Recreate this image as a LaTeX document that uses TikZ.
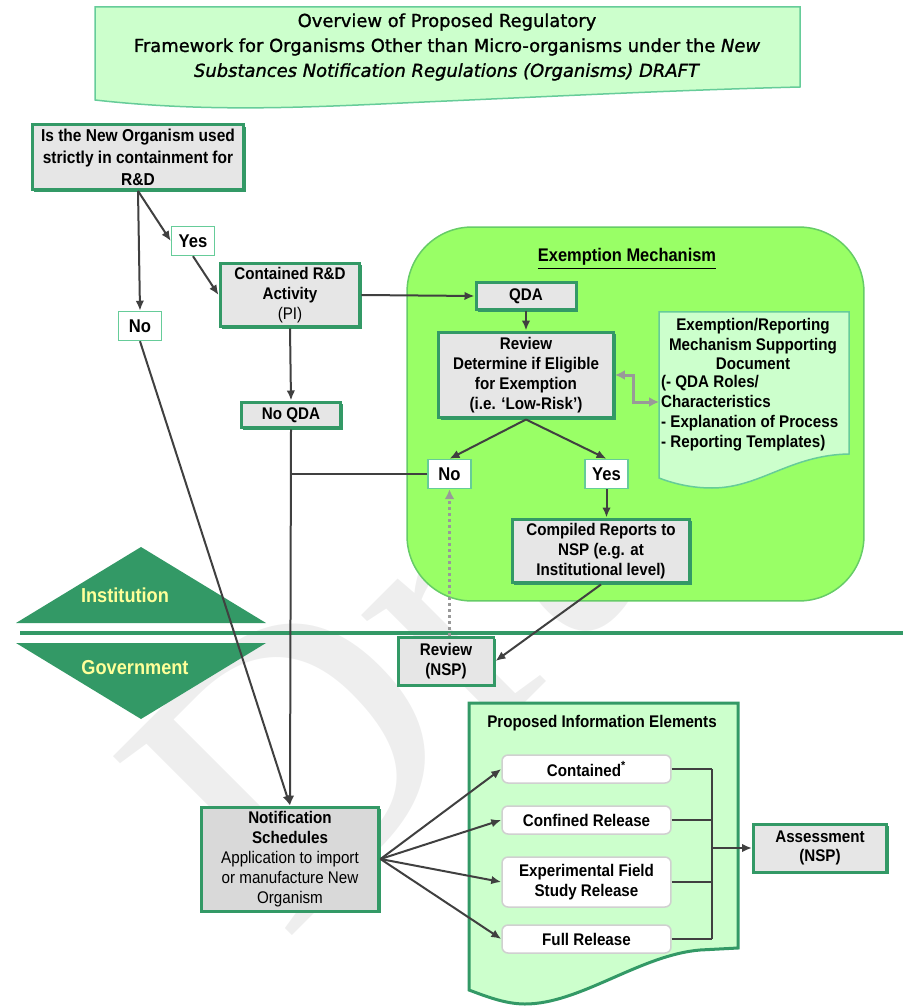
\documentclass[tikz,border=0pt]{standalone}
\usepackage{fontspec}
\setmainfont{Liberation Sans}[FakeStretch=0.9]
\newfontfamily\titlefont{DejaVu Sans}[FakeBold=1.2]
\newfontfamily\markfont{Liberation Serif}
\usetikzlibrary{arrows.meta,shadows}

\definecolor{boxgreen}{HTML}{339966}
\definecolor{edgegreen}{HTML}{66CC99}
\definecolor{exemptedge}{HTML}{66CC66}
\definecolor{palegreen}{HTML}{CCFFCC}
\definecolor{brightgreen}{HTML}{99FF66}
\definecolor{boxgray}{HTML}{E6E6E6}
\definecolor{schedgray}{HTML}{D9D9D9}
\definecolor{itemgray}{HTML}{D0D0D0}
\definecolor{linegray}{HTML}{404040}
\definecolor{tipgray}{HTML}{999999}
\definecolor{labelyellow}{HTML}{FFFF99}
\definecolor{markgray}{HTML}{EEEEEE}

\begin{document}
\begin{tikzpicture}
[x=0.02cm, y=-0.02cm,
  boxdecorate/.style={shape=rectangle,draw=boxgreen,line width=0.06cm,fill=boxgray,
    align=center,inner sep=1pt,font=\fontsize{9.6}{11.3}\selectfont\bfseries,
    drop shadow={shadow xshift=0.045cm,shadow yshift=-0.045cm,fill=boxgreen,opacity=1}},%
  tagdecorate/.style={shape=rectangle,draw=edgegreen,line width=0.03cm,fill=white,
    minimum width=0.86cm,minimum height=0.58cm,inner sep=1pt,
    font=\fontsize{10.5}{12}\selectfont\bfseries},%
  itemdecorate/.style={shape=rectangle,rounded corners=0.12cm,draw=itemgray,line width=0.03cm,
    fill=white,align=center,minimum width=3.38cm,inner sep=1pt,
    font=\fontsize{9.6}{11.3}\selectfont\bfseries},%
  paperdecorate/.style={fill=palegreen,draw=edgegreen,line width=0.03cm},%
  textdecorate/.style={align=center,inner sep=1pt,font=\fontsize{9.6}{11.3}\selectfont\bfseries},%
  arrowdecorate/.style={-{Latex[length=0.2cm,width=0.17cm]},draw=linegray,line width=0.04cm},%
  linedecorate/.style={-,draw=linegray,line width=0.04cm},%
  graydecorate/.style={{Latex[length=0.2cm,width=0.2cm]}-{Latex[length=0.2cm,width=0.2cm]},
    draw=tipgray,line width=0.06cm},%
  dotdecorate/.style={-{Latex[length=0.2cm,width=0.2cm]},draw=tipgray,line width=0.06cm,
    dash pattern=on 0.06cm off 0.06cm}]
\useasboundingbox (0,0) rectangle (903,1006);
%% watermark
\node (draftmark) at (284,944) [anchor=base west,rotate=45,text=markgray,inner sep=0pt,
  font=\markfont\fontsize{220}{220}\selectfont] {Draft};
%% heading
\path[paperdecorate] (95,7) -- (800,7) -- (800,87) .. controls (680,90) and (560,96) .. (447,101)
  .. controls (330,106) and (220,114) .. (95,100) -- cycle;
\node (title) at (447,47) [align=center,font=\titlefont\fontsize{10.2}{14.2}\selectfont]
  {Overview of Proposed Regulatory\\Framework for Organisms Other than Micro-organisms under the \textit{New}\\
   \textit{Substances Notification Regulations (Organisms) DRAFT}};
%% institution and government
\path[fill=boxgreen] (16,623) -- (141,547) -- (266,623) -- cycle;
\path[fill=boxgreen] (16,643) -- (141,719) -- (266,643) -- cycle;
\draw[boxgreen,line width=0.08cm] (20,633) -- (903,633);
\node (institution) at (125,595) [text=labelyellow,font=\fontsize{11.5}{13}\selectfont\bfseries] {Institution};
\node (government) at (135,668) [text=labelyellow,font=\fontsize{11.5}{13}\selectfont\bfseries] {Government};
%% exemption mechanism
\node (exempt) at (635.5,414) [shape=rectangle,rounded corners=1.3cm,fill=brightgreen,draw=exemptedge,
  line width=0.03cm,minimum width=9.14cm,minimum height=7.48cm] {};
\node (exempttitle) at (627,259) [font=\fontsize{10.4}{12}\selectfont\bfseries] {\underline{Exemption Mechanism}};
\path[paperdecorate] (659,312) -- (849,312) -- (849,454) .. controls (790,455) and (760,488) .. (712,488)
  .. controls (690,488) and (672,483) .. (659,478) -- cycle;
\coordinate (supdoc) at (659,402);
\node (supdochead) at (753,344) [textdecorate] {Exemption/Reporting\\Mechanism Supporting\\Document};
\node (supdoclist) at (659,413) [textdecorate,anchor=west,align=left]
  {(- QDA Roles/\\Characteristics\\- Explanation of Process\\- Reporting Templates)};
%% nodes or boxes
\node (qbox) at (138,157) [boxdecorate,minimum width=4.24cm,minimum height=1.3cm,
  font=\fontsize{9.8}{12.5}\selectfont\bfseries] {Is the New Organism used\\strictly in containment for\\R\&D};
\node (yesA) at (193,241) [tagdecorate] {Yes};
\node (noA) at (140,326) [tagdecorate] {No};
\node (rnd) at (290,295) [boxdecorate,minimum width=2.8cm,minimum height=1.28cm]
  {Contained R\&D\\Activity\\{\mdseries (PI)}};
\node (noqda) at (291,415) [boxdecorate,minimum width=2.0cm,minimum height=0.52cm] {No QDA};
\node (qda) at (526,296) [boxdecorate,minimum width=2.0cm,minimum height=0.54cm] {QDA};
\node (review) at (526,375) [boxdecorate,minimum width=3.5cm,minimum height=1.72cm]
  {Review\\Determine if Eligible\\for Exemption\\(i.e. `Low-Risk')};
\node (noB) at (449.5,474) [tagdecorate] {No};
\node (yesB) at (606.5,474) [tagdecorate] {Yes};
\node (compiled) at (601,551) [boxdecorate,minimum width=3.56cm,minimum height=1.28cm]
  {Compiled Reports to\\NSP (e.g. at\\Institutional level)};
\node (nspreview) at (446,661) [boxdecorate,minimum width=1.92cm,minimum height=0.96cm] {Review\\(NSP)};
\node (notif) at (290,859) [boxdecorate,fill=schedgray,minimum width=3.56cm,minimum height=2.08cm]
  {Notification\\Schedules\\{\mdseries Application to import}\\{\mdseries or manufacture New}\\{\mdseries Organism}};
%% proposed information elements
\path[paperdecorate,draw=boxgreen,line width=0.06cm] (469,703) -- (738,703) -- (738,948) -- (700,950)
  .. controls (640,955) and (580,1004) .. (525,1004) .. controls (505,1004) and (485,996) .. (469,990) -- cycle;
\node (proposed) at (602,723) [textdecorate] {Proposed Information Elements};
\foreach \nodename/\y/\h/\txt in {contained/769/0.56/{Contained\textsuperscript{*}},
  confined/820/0.56/{Confined Release}, fieldstudy/882/1.0/{Experimental Field\\Study Release},
  fullrel/939/0.56/{Full Release}} {
  \node (\nodename) at (586.5,\y) [itemdecorate,minimum height=\h cm] {\txt};
}
\node (assess) at (820,848) [boxdecorate,minimum width=2.66cm,minimum height=0.96cm] {Assessment\\(NSP)};
%% edges or lines
\draw[arrowdecorate] (qbox.south) -- (noA.north);
\draw[arrowdecorate] (qbox.south) -- (yesA.west);
\draw[arrowdecorate] (yesA.south) -- (rnd.west);
\draw[arrowdecorate] (noA.south) -- (notif.north);
\draw[arrowdecorate] (rnd.south) -- (noqda.north);
\draw[arrowdecorate] (noqda.south) -- (notif.north);
\draw[arrowdecorate] (rnd.east) -- (qda.west);
\draw[arrowdecorate] (qda.south) -- (review.north);
\draw[arrowdecorate] (review.south) -- (noB.north);
\draw[arrowdecorate] (review.south) -- (yesB.north);
\draw[linedecorate] (noB.west) -- (noB.west -| noqda.south);
\draw[arrowdecorate] (yesB.south) -- (yesB.south |- compiled.north);
\draw[arrowdecorate] (compiled.south) -- (nspreview.east);
\draw[dotdecorate] (noB.south |- nspreview.north) -- (noB.south);
\draw[graydecorate] (review.east) -- ++(19,0) |- (supdoc);
\path
\foreach \endnode in {contained,confined,fieldstudy,fullrel} {
  (notif.east) edge[arrowdecorate] (\endnode.west)
};
\coordinate (bus) at (712,848);
\foreach \startnode in {contained,confined,fieldstudy,fullrel} {
  \draw[linedecorate] (\startnode.east) -- (\startnode.east -| bus);
}
\draw[linedecorate] (contained.east -| bus) -- (fullrel.east -| bus);
\draw[arrowdecorate] (bus) -- (assess.west);
\end{tikzpicture}
\end{document}
